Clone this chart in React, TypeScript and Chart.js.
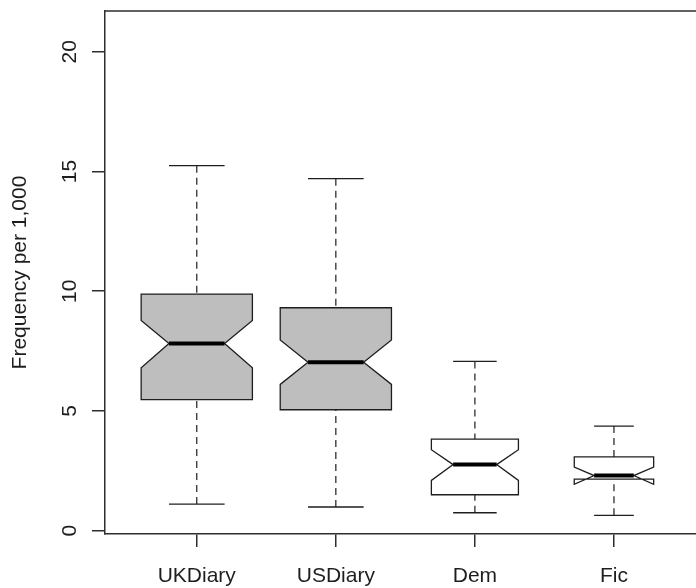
import React, { useEffect, useRef } from 'react';
import { Chart, registerables } from 'chart.js';

Chart.register(...registerables);

// ---- data ----
const categories = ['UKDiary', 'USDiary', 'Dem', 'Fic'];
const whiskerLow = [1.11, 0.99, 0.75, 0.64];
const q1 = [5.47, 5.05, 1.5, 2.15];
const notchLow = [6.8, 6.11, 2.1, 1.94];
const median = [7.82, 7.03, 2.76, 2.3];
const notchHigh = [8.78, 7.96, 3.38, 2.66];
const q3 = [9.88, 9.31, 3.82, 3.08];
const whiskerHigh = [15.24, 14.7, 7.07, 4.37];
const boxWidths = [0.8, 0.8, 0.626, 0.571];
const boxFills = ['#BEBEBE', '#BEBEBE', '#FFFFFF', '#FFFFFF'];
const yTicks = [0, 5, 10, 15, 20];
const yTitle = 'Frequency per 1,000';

const FONT = "'Liberation Sans', Arial, Helvetica, sans-serif";
const INK = '#1e1e1e';
const FRAME = '#2e2e2e';

const boxPlugin = {
  id: 'notchedBoxes',
  afterDatasetsDraw(chart: any) {
    const { ctx, chartArea } = chart;
    const xs = chart.scales.x;
    const ys = chart.scales.y;
    const py = (v: number) => ys.getPixelForValue(v);
    ctx.save();
    // top frame line (right edge lies outside the picture)
    ctx.strokeStyle = FRAME;
    ctx.lineWidth = 1.5;
    ctx.beginPath();
    ctx.moveTo(chartArea.left, chartArea.top);
    ctx.lineTo(chartArea.right + 2, chartArea.top);
    ctx.stroke();

    categories.forEach((_, i) => {
      const cx = xs.getPixelForValue(i + 1);
      const hw = xs.getPixelForValue(i + 1 + boxWidths[i] / 2) - cx;
      const nw = hw / 2;
      const cw = hw / 2;
      ctx.strokeStyle = INK;
      // dashed whiskers
      ctx.lineWidth = 1.2;
      ctx.setLineDash([7, 5]);
      ctx.beginPath();
      ctx.moveTo(cx, py(whiskerHigh[i]));
      ctx.lineTo(cx, py(q3[i]));
      ctx.moveTo(cx, py(whiskerLow[i]));
      ctx.lineTo(cx, py(q1[i]));
      ctx.stroke();
      ctx.setLineDash([]);
      // staples
      ctx.lineWidth = 1.3;
      ctx.beginPath();
      ctx.moveTo(cx - cw, py(whiskerHigh[i]));
      ctx.lineTo(cx + cw, py(whiskerHigh[i]));
      ctx.moveTo(cx - cw, py(whiskerLow[i]));
      ctx.lineTo(cx + cw, py(whiskerLow[i]));
      ctx.stroke();
      // notched box
      ctx.beginPath();
      ctx.moveTo(cx - hw, py(q1[i]));
      ctx.lineTo(cx - hw, py(notchLow[i]));
      ctx.lineTo(cx - nw, py(median[i]));
      ctx.lineTo(cx - hw, py(notchHigh[i]));
      ctx.lineTo(cx - hw, py(q3[i]));
      ctx.lineTo(cx + hw, py(q3[i]));
      ctx.lineTo(cx + hw, py(notchHigh[i]));
      ctx.lineTo(cx + nw, py(median[i]));
      ctx.lineTo(cx + hw, py(notchLow[i]));
      ctx.lineTo(cx + hw, py(q1[i]));
      ctx.closePath();
      ctx.fillStyle = boxFills[i];
      ctx.fill();
      ctx.lineWidth = 1.3;
      ctx.stroke();
      // median
      ctx.lineWidth = 4;
      ctx.strokeStyle = '#000';
      ctx.beginPath();
      ctx.moveTo(cx - nw, py(median[i]));
      ctx.lineTo(cx + nw, py(median[i]));
      ctx.stroke();
    });
    ctx.restore();
  },
};

export default function App() {
  const ref = useRef<HTMLCanvasElement>(null);
  useEffect(() => {
    const font = { family: FONT, size: 21 };
    const chart = new Chart(ref.current as HTMLCanvasElement, {
      type: 'scatter',
      data: {
        datasets: [
          {
            data: categories.map((_, i) => ({ x: i + 1, y: median[i] })),
            pointRadius: 0,
            showLine: false,
          },
        ],
      },
      options: {
        animation: false,
        responsive: false,
        maintainAspectRatio: false,
        layout: { padding: { top: 11, left: 0, right: 0, bottom: 0 } },
        plugins: { legend: { display: false }, tooltip: { enabled: false } },
        scales: {
          x: {
            type: 'linear',
            min: 0.34,
            max: 4.59,
            afterBuildTicks: (s: any) => {
              s.ticks = categories.map((_, i) => ({ value: i + 1 }));
            },
            afterFit: (s: any) => {
              s.height = 54;
              s.paddingLeft = 0;
              s.paddingRight = 0;
            },
            ticks: {
              callback: (v: any) => categories[Math.round(Number(v)) - 1] ?? '',
              font,
              color: INK,
              padding: 16.5,
              maxRotation: 0,
              minRotation: 0,
              autoSkip: false,
            },
            grid: { drawOnChartArea: false, drawTicks: true, tickLength: 13, color: FRAME, lineWidth: 1.5 },
            border: { display: true, color: FRAME, width: 1.5 },
          },
          y: {
            type: 'linear',
            min: -0.138,
            max: 21.7,
            afterBuildTicks: (s: any) => {
              s.ticks = yTicks.map((v) => ({ value: v }));
            },
            afterFit: (s: any) => {
              s.width = 105;
              s.paddingTop = 0;
              s.paddingBottom = 0;
            },
            ticks: {
              font,
              color: INK,
              padding: 10,
              minRotation: 90,
              maxRotation: 90,
              crossAlign: 'center',
              autoSkip: false,
            },
            grid: { drawOnChartArea: false, drawTicks: true, tickLength: 13, color: FRAME, lineWidth: 1.5 },
            border: { display: true, color: FRAME, width: 1.5 },
            title: {
              display: true,
              text: yTitle,
              font,
              color: INK,
              padding: { top: 7.6, bottom: 0 },
            },
          },
        },
      } as any,
      plugins: [boxPlugin],
    });
    return () => chart.destroy();
  }, []);
  return (
    <div style={{ position: 'fixed', left: 0, top: 0, width: 696, height: 588, background: '#fff' }}>
      <canvas ref={ref} width={696} height={588} style={{ display: 'block', width: 696, height: 588 }} />
    </div>
  );
}
